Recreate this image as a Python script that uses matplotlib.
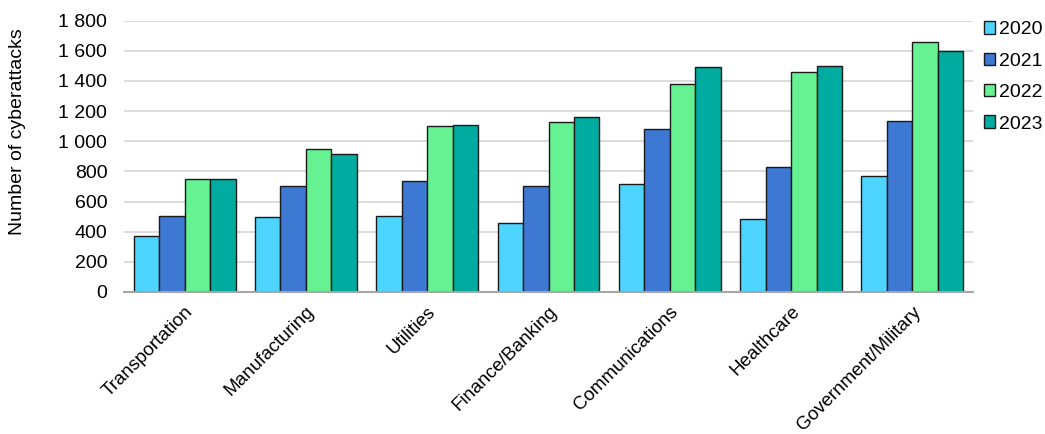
import matplotlib
matplotlib.use("Agg")
import matplotlib.pyplot as plt
import numpy as np

categories = ["Transportation", "Manufacturing", "Utilities", "Finance/Banking",
              "Communications", "Healthcare", "Government/Military"]
years = ["2020", "2021", "2022", "2023"]
v2020 = [372, 498, 503, 459, 713, 483, 770]
v2021 = [501, 702, 735, 704, 1079, 829, 1134]
v2022 = [746, 946, 1099, 1130, 1379, 1461, 1657]
v2023 = [748, 918, 1110, 1160, 1489, 1498, 1595]
series = [v2020, v2021, v2022, v2023]
colors = ["#4DD4FF", "#3D78D2", "#66F293", "#00AB9F"]
yticks = [0, 200, 400, 600, 800, 1000, 1200, 1400, 1600, 1800]

plt.rcParams['font.family'] = ['Liberation Sans', 'DejaVu Sans']

fig = plt.figure(figsize=(10.45, 4.34), dpi=100)
ax = fig.add_axes([124/1045, 1-292/434, (973-124)/1045, (292-20.5)/434])

x = np.arange(len(categories))
w = 0.21
for i, (vals, c, yr) in enumerate(zip(series, colors, years)):
    ax.bar(x + (i - 1.5) * w, vals, width=w, color=c, edgecolor="#1a1a1a",
           linewidth=1.0, label=yr, zorder=3)

ax.set_xlim(-0.5, len(categories) - 0.5)
ax.set_ylim(0, 1800)
ax.set_yticks(yticks)
ax.set_yticklabels([f"{v:,}".replace(",", " ") for v in yticks], fontsize=14)
ax.set_xticks(x)
ax.set_xticklabels(categories, rotation=45, ha="right", va="top",
                   rotation_mode="anchor", fontsize=13.5)
ax.tick_params(axis="both", length=0)
ax.tick_params(axis="x", pad=8)
ax.tick_params(axis="y", pad=12)
ax.grid(axis="y", color="#D9D9D9", linewidth=1.3, zorder=0)
for s in ["top", "right", "left"]:
    ax.spines[s].set_visible(False)
ax.spines["bottom"].set_color("#A6A6A6")
ax.spines["bottom"].set_linewidth(1.5)
ax.spines["bottom"].set_zorder(4)
ax.set_ylabel("Number of cyberattacks", fontsize=14)
ax.yaxis.set_label_coords(-0.1154, 0.589)

leg = fig.legend(loc="upper left", bbox_to_anchor=(0.934, 0.969), frameon=False,
                 fontsize=14, handlelength=0.6, handleheight=0.6,
                 handletextpad=0.2, labelspacing=0.74, borderaxespad=0)
for h in leg.legend_handles:
    h.set_edgecolor("#1a1a1a")
    h.set_linewidth(1.0)

fig.savefig("out.png", dpi=100)
